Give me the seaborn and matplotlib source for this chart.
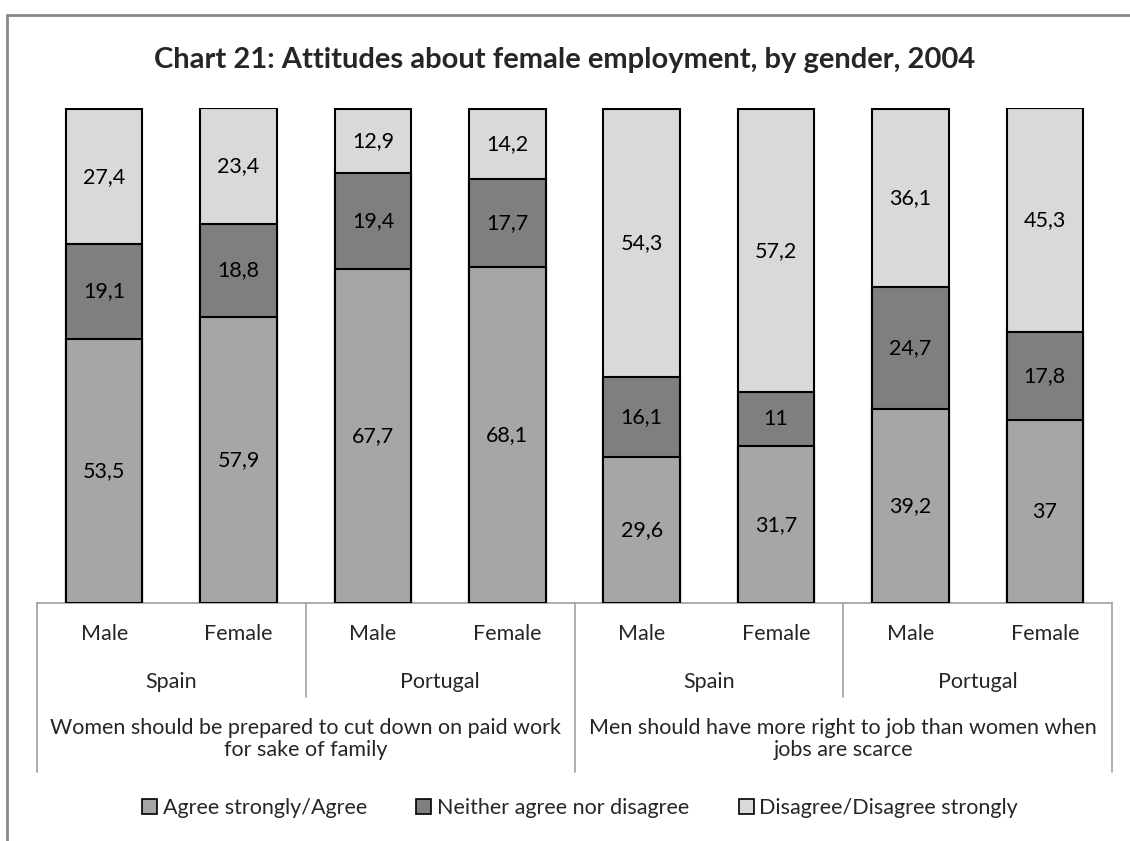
import matplotlib
matplotlib.use("Agg")
import matplotlib.pyplot as plt
from matplotlib.patches import Patch
from matplotlib.lines import Line2D
import seaborn as sns
import pandas as pd
import numpy as np

# ---- data ----
genders = ["Male", "Female", "Male", "Female", "Male", "Female", "Male", "Female"]
countries = ["Spain", "Portugal", "Spain", "Portugal"]
questions = ["Women should be prepared to cut down on paid work\nfor sake of family",
             "Men should have more right to job than women when\njobs are scarce"]
series_names = ["Agree strongly/Agree", "Neither agree nor disagree", "Disagree/Disagree strongly"]
agree = [53.5, 57.9, 67.7, 68.1, 29.6, 31.7, 39.2, 37]
neither = [19.1, 18.8, 19.4, 17.7, 16.1, 11, 24.7, 17.8]
disagree = [27.4, 23.4, 12.9, 14.2, 54.3, 57.2, 36.1, 45.3]
title = "Chart 21: Attitudes about female employment, by gender, 2004"

colors = ["#a6a6a6", "#7f7f7f", "#d9d9d9"]

sns.set_theme(style="white")
plt.rcParams['font.family'] = ['Lato', 'DejaVu Sans']

FS = 15.5

W, H = 1130, 841
fig = plt.figure(figsize=(W / 100, H / 100), dpi=100)
ax_l, ax_r, ax_t, ax_b = 37, 1112, 108, 603
ax = fig.add_axes([ax_l / W, 1 - ax_b / H, (ax_r - ax_l) / W, (ax_b - ax_t) / H])

idx = [f"c{i}" for i in range(len(genders))]
layers = [agree, neither, disagree]
cum = np.cumsum(np.array(layers), axis=0)

# draw from top-most cumulative downwards so stacks overlap correctly
for k in [2, 1, 0]:
    df = pd.DataFrame({"cat": idx, "val": cum[k]})
    sns.barplot(data=df, x="cat", y="val", color=colors[k], saturation=1,
                width=0.57, edgecolor="black", linewidth=1.5, ax=ax, zorder=2 + (2 - k))

# value labels
for i in range(len(idx)):
    base = 0
    for k in range(3):
        v = layers[k][i]
        ax.text(i, base + v / 2, f"{v:g}".replace(".", ","), ha="center", va="center",
                fontsize=FS, color="black", zorder=10)
        base += v

ax.set_ylim(0, 100.2)
ax.set_xlim(-0.5, len(idx) - 0.5)
ax.set_xlabel("")
ax.set_ylabel("")
ax.set_xticks([])
ax.set_yticks([])
for s in ["left", "right", "top"]:
    ax.spines[s].set_visible(False)
ax.spines["bottom"].set_color("#a0a0a0")
ax.spines["bottom"].set_linewidth(1.2)

# hierarchical axis
tr = ax.get_xaxis_transform()
axh = ax_b - ax_t
def ya(py):
    return (ax_b - py) / axh

for xs, yend in [(-0.5, 772), (1.5, 697), (3.5, 772), (5.5, 697), (7.5, 772)]:
    ax.add_line(Line2D([xs, xs], [0, ya(yend)], transform=tr, color="#a0a0a0",
                       linewidth=1.2, clip_on=False))

for i, g in enumerate(genders):
    ax.text(i, ya(634), g, transform=tr, ha="center", va="center", fontsize=FS)
for j, c in enumerate(countries):
    ax.text(2 * j + 0.5, ya(682), c, transform=tr, ha="center", va="center", fontsize=FS)
for j, q in enumerate(questions):
    ax.text(4 * j + 1.5, ya(739), q, transform=tr, ha="center", va="center",
            fontsize=FS, linespacing=1.15)

fig.suptitle(title, x=565 / W, y=1 - 60 / H, va="center", fontsize=21, fontweight="bold")

handles = [Patch(facecolor=colors[k], edgecolor="black", linewidth=1.2, label=series_names[k])
           for k in range(3)]
fig.legend(handles=handles, loc="center", bbox_to_anchor=(580 / W, 1 - 808 / H), ncol=3,
           frameon=False, fontsize=FS, handlelength=0.7, handleheight=0.7,
           handletextpad=0.25, columnspacing=2.3)

# outer frame (partially visible)
fig.add_artist(Line2D([7 / W, 1], [1 - 15 / H, 1 - 15 / H], transform=fig.transFigure,
                      color="#898989", linewidth=2))
fig.add_artist(Line2D([7 / W, 7 / W], [0, 1 - 15 / H], transform=fig.transFigure,
                      color="#898989", linewidth=2))

fig.savefig("out.png", dpi=100)
